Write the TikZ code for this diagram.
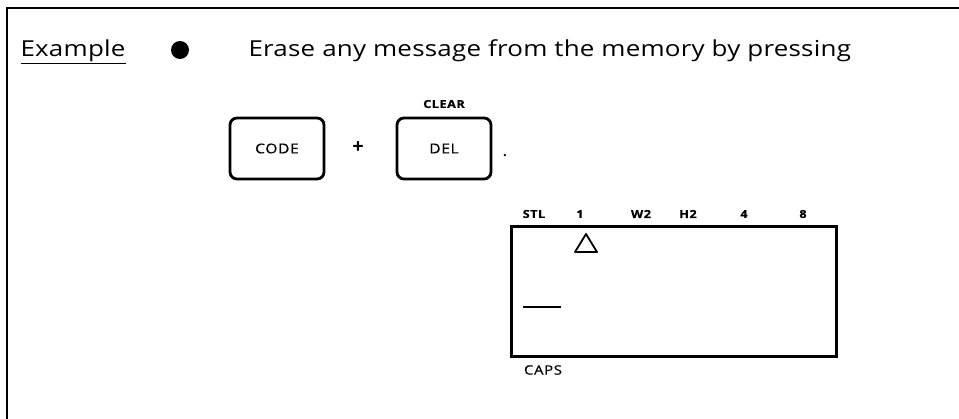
\documentclass[tikz,border=0pt]{standalone}
\usepackage{fontspec}
\setmainfont{Open Sans}
\newfontfamily\textwide[FakeStretch=1.18, LetterSpace=1]{Open Sans}
\newfontfamily\labelwide[FakeStretch=1.15, LetterSpace=5, FakeBold=0.6]{Open Sans}
\usetikzlibrary{positioning}
\tikzset{
  keycap/.style={draw, line width=2.8pt, rounded corners=7pt,
    minimum width=94pt, minimum height=61pt,
    font=\labelwide\fontsize{13.5}{15}\selectfont},
  lcdlabel/.style={font=\labelwide\fontsize{11}{13}\selectfont\bfseries},
  bigtext/.style={anchor=base west, font=\textwide\fontsize{22}{26}\selectfont},
  thinrule/.style={line width=1.8pt}
}
\begin{document}
\begin{tikzpicture}[x=1pt,y=-1pt]
    \useasboundingbox (0,0) rectangle (959,419);
    \draw[line width=1.5pt] (7,419) -- (7,8) -- (959,8);

    \node[bigtext] (example) at (17,57) {\underline{Example}};
    \node[circle, fill, minimum size=18pt, inner sep=0pt] (dot) at (180,50) {};
    \node[bigtext] (erase) at (245,57) {Erase any message from the memory by pressing};

    \node[keycap] (code) at (277,148.5) {CODE};
    \node[font=\fontsize{20}{22}\selectfont\bfseries] (plus) at (358,148) {+};
    \node[keycap] (del) at (444,148.5) {DEL};
    \node[lcdlabel, above=5pt of del] (clear) {CLEAR};
    \node[anchor=base, font=\fontsize{13}{15}\selectfont\bfseries] (stop) at (505,157) {.};

    \node[draw, line width=3pt, anchor=north west, inner sep=0pt,
      minimum width=325pt, minimum height=130pt] (lcd) at (510,225) {};
    \foreach \lbl/\xpos in {STL/534, 1/580, W2/641, H2/688, 4/744, 8/803}
      \node[lcdlabel] (mark-\lbl) at (\xpos,214) {\lbl};
    \draw[thinrule, line join=round] (575,252) -- (586,234) -- (597,252) -- cycle;
    \draw[thinrule] (523,307) -- (561,307);
    \node[font=\labelwide\fontsize{13}{15}\selectfont] (caps) at (543,370) {CAPS};
  \end{tikzpicture}
\end{document}
